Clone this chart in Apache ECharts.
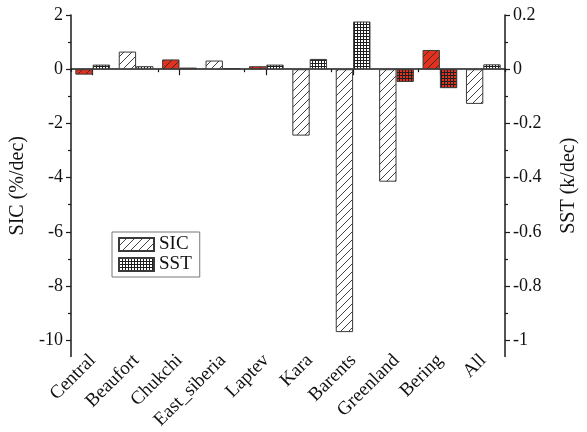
<!DOCTYPE html>
<html>
<head>
<meta charset="utf-8">
<script src="https://cdn.jsdelivr.net/npm/echarts@6/dist/echarts.min.js"></script>
<style>
  html, body { margin: 0; padding: 0; background: #fff; }
  #chart { width: 587px; height: 432px; }
</style>
</head>
<body>
<div id="chart"></div>
<script>
// Regional trends of sea-ice concentration (SIC) and sea-surface temperature (SST)
const categories = ['Central', 'Beaufort', 'Chukchi', 'East_siberia', 'Laptev',
                    'Kara', 'Barents', 'Greenland', 'Bering', 'All'];
const sicValues = [-0.2, 0.65, 0.36, 0.32, 0.11, -2.45, -9.7, -4.15, 0.71, -1.28];
const sstValues = [0.017, 0.011, 0.006, 0.004, 0.017, 0.038, 0.176, -0.047, -0.07, 0.018];
// regions whose trend is significant are drawn in red
const sicSignificant = [true, false, true, false, true, false, false, false, true, false];
const sstSignificant = [false, false, true, false, false, false, false, true, true, false];

const sicTicks = [-10, -8, -6, -4, -2, 0, 2];
const sicMinorTicks = [-9, -7, -5, -3, -1, 1];
const sstTicks = [-1, -0.8, -0.6, -0.4, -0.2, 0, 0.2];
const sstMinorTicks = [-0.9, -0.7, -0.5, -0.3, -0.1, 0.1];

const RED = '#e2321e';
const FONT = '"Liberation Serif", "Times New Roman", serif';

function hatchPattern(bg) {
  const s = 8;
  const c = document.createElement('canvas');
  c.width = s; c.height = s;
  const ctx = c.getContext('2d');
  ctx.fillStyle = bg;
  ctx.fillRect(0, 0, s, s);
  ctx.strokeStyle = '#2a2a2a';
  ctx.lineWidth = 0.9;
  ctx.beginPath();
  ctx.moveTo(-1, s + 1); ctx.lineTo(s + 1, -1);
  ctx.moveTo(-1, 1); ctx.lineTo(1, -1);
  ctx.moveTo(s - 1, s + 1); ctx.lineTo(s + 1, s - 1);
  ctx.stroke();
  return { image: c, repeat: 'repeat' };
}

function checkPattern(bg) {
  const s = 3;
  const c = document.createElement('canvas');
  c.width = s; c.height = s;
  const ctx = c.getContext('2d');
  ctx.fillStyle = bg;
  ctx.fillRect(0, 0, s, s);
  ctx.fillStyle = '#1e1e1e';
  ctx.fillRect(0, 0, s, 1);
  ctx.fillRect(0, 0, 1, s);
  return { image: c, repeat: 'repeat' };
}

const sicWhite = hatchPattern('#ffffff');
const sicRed = hatchPattern(RED);
const sstWhite = checkPattern('#ffffff');
const sstRed = checkPattern(RED);

const sicData = sicValues.map((v, i) => ({
  value: v,
  itemStyle: { color: sicSignificant[i] ? sicRed : sicWhite }
}));
const sstData = sstValues.map((v, i) => ({
  value: v,
  itemStyle: { color: sstSignificant[i] ? sstRed : sstWhite }
}));

const axisColor = '#1a1a1a';
const fmt = v => (v === 0 ? '0' : String(Number(v.toFixed(2))));

const chart = echarts.init(document.getElementById('chart'), null, { renderer: 'canvas' });

chart.setOption({
  backgroundColor: '#fff',
  animation: false,
  textStyle: { fontFamily: FONT },
  grid: { left: 71, right: 78, top: 15, bottom: 57, containLabel: false },
  legend: {
    orient: 'vertical',
    left: 112, top: 232,
    itemWidth: 35, itemHeight: 13, itemGap: 1,
    padding: [3, 8, 3, 6],
    borderColor: '#777', borderWidth: 1,
    icon: 'rect',
    textStyle: { fontFamily: FONT, fontSize: 19, lineHeight: 19, color: '#111' },
    data: ['SIC', 'SST']
  },
  xAxis: [
    {
      // category labels along the bottom
      type: 'category', data: categories, position: 'bottom',
      axisLine: { show: false, onZero: false },
      axisTick: { show: false },
      axisLabel: { rotate: 45, margin: 1, fontFamily: FONT, fontSize: 19, color: '#111', interval: 0 },
      splitLine: { show: false }
    },
    {
      // zero line with ticks at category centres
      type: 'category', data: categories, position: 'bottom',
      axisLine: { show: true, onZero: true, onZeroAxisIndex: 0, lineStyle: { color: axisColor, width: 1.5 } },
      axisTick: { show: true, alignWithLabel: true, length: 6, lineStyle: { color: axisColor, width: 1.2 } },
      axisLabel: { show: false },
      splitLine: { show: false }
    },
    {
      // short ticks at category boundaries
      type: 'category', data: categories, position: 'bottom',
      axisLine: { show: false, onZero: true, onZeroAxisIndex: 0 },
      axisTick: { show: true, length: 3, lineStyle: { color: axisColor, width: 1.2 } },
      axisLabel: { show: false },
      splitLine: { show: false }
    }
  ],
  yAxis: [
    {
      type: 'value', min: -10.6, max: 2, position: 'left',
      name: 'SIC (%/dec)', nameLocation: 'middle', nameGap: 31,
      nameTextStyle: { fontFamily: FONT, fontSize: 20, color: '#111' },
      axisLine: { show: true, lineStyle: { color: axisColor, width: 1.5 } },
      axisTick: { show: true, length: 5, customValues: sicTicks, lineStyle: { color: axisColor, width: 1.2 } },
      axisLabel: { customValues: sicTicks, margin: 8, fontFamily: FONT, fontSize: 18, color: '#111', formatter: fmt },
      splitLine: { show: false }
    },
    {
      type: 'value', min: -1.06, max: 0.2, position: 'right',
      name: 'SST (k/dec)', nameLocation: 'middle', nameGap: 54,
      nameRotate: 90,
      nameTextStyle: { fontFamily: FONT, fontSize: 20, color: '#111' },
      axisLine: { show: true, lineStyle: { color: axisColor, width: 1.5 } },
      axisTick: { show: true, length: 5, customValues: sstTicks, lineStyle: { color: axisColor, width: 1.2 } },
      axisLabel: { customValues: sstTicks, margin: 8, fontFamily: FONT, fontSize: 18, color: '#111', formatter: fmt },
      splitLine: { show: false }
    },
    {
      // minor ticks, left
      type: 'value', min: -10.6, max: 2, position: 'left',
      axisLine: { show: false },
      axisTick: { show: true, length: 3, customValues: sicMinorTicks, lineStyle: { color: axisColor, width: 1.2 } },
      axisLabel: { show: false },
      splitLine: { show: false }
    },
    {
      // minor ticks, right
      type: 'value', min: -1.06, max: 0.2, position: 'right',
      axisLine: { show: false },
      axisTick: { show: true, length: 3, customValues: sstMinorTicks, lineStyle: { color: axisColor, width: 1.2 } },
      axisLabel: { show: false },
      splitLine: { show: false }
    }
  ],
  series: [
    {
      name: 'SIC', type: 'bar', xAxisIndex: 0, yAxisIndex: 0,
      barWidth: '40%', barGap: '0%',
      itemStyle: { color: sicWhite, borderColor: '#3a3a3a', borderWidth: 1 },
      data: sicData
    },
    {
      name: 'SST', type: 'bar', xAxisIndex: 0, yAxisIndex: 1,
      barWidth: '40%', barGap: '0%',
      itemStyle: { color: sstWhite, borderColor: '#3a3a3a', borderWidth: 1 },
      data: sstData
    }
  ]
});
</script>
</body>
</html>
